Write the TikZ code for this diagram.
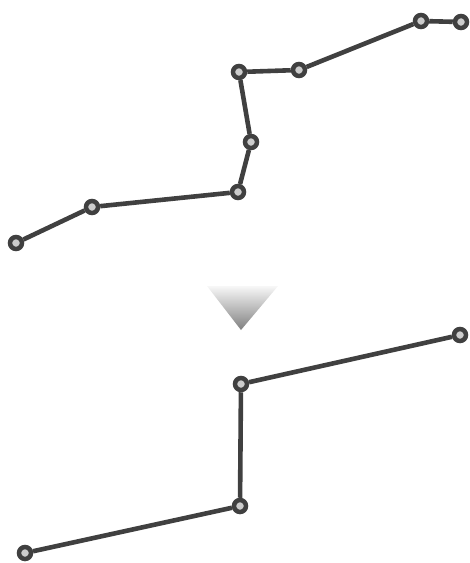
\documentclass[tikz,border=0pt]{standalone}
\usetikzlibrary{shadings}
\begin{document}
\begin{tikzpicture}[x=1pt,y=-1pt,
  pt/.style={circle,draw=black!75,line width=4.5pt,fill=black!20,minimum size=12pt,inner sep=0pt},
  seg/.style={draw=black!75,line width=4.6pt}]
\useasboundingbox (0,0) rectangle (470,563);
% top chain
\node[pt] (a1) at (16,243) {};
\node[pt] (a2) at (92,207) {};
\node[pt] (a3) at (238,192) {};
\node[pt] (a4) at (251,142) {};
\node[pt] (a5) at (239,72) {};
\node[pt] (a6) at (299,70) {};
\node[pt] (a7) at (421,21) {};
\node[pt] (a8) at (461,22) {};
\path[seg] (a1)--(a2) (a2)--(a3) (a3)--(a4) (a4)--(a5) (a5)--(a6) (a6)--(a7) (a7)--(a8);
% arrow
\shade[top color=black!3,bottom color=black!50] (207,286) -- (278,286) -- (241,330) -- cycle;
% bottom chain
\node[pt] (b1) at (25,553) {};
\node[pt] (b2) at (240,506) {};
\node[pt] (b3) at (241,384) {};
\node[pt] (b4) at (460,335) {};
\path[seg] (b1)--(b2) (b2)--(b3) (b3)--(b4);
\end{tikzpicture}
\end{document}
